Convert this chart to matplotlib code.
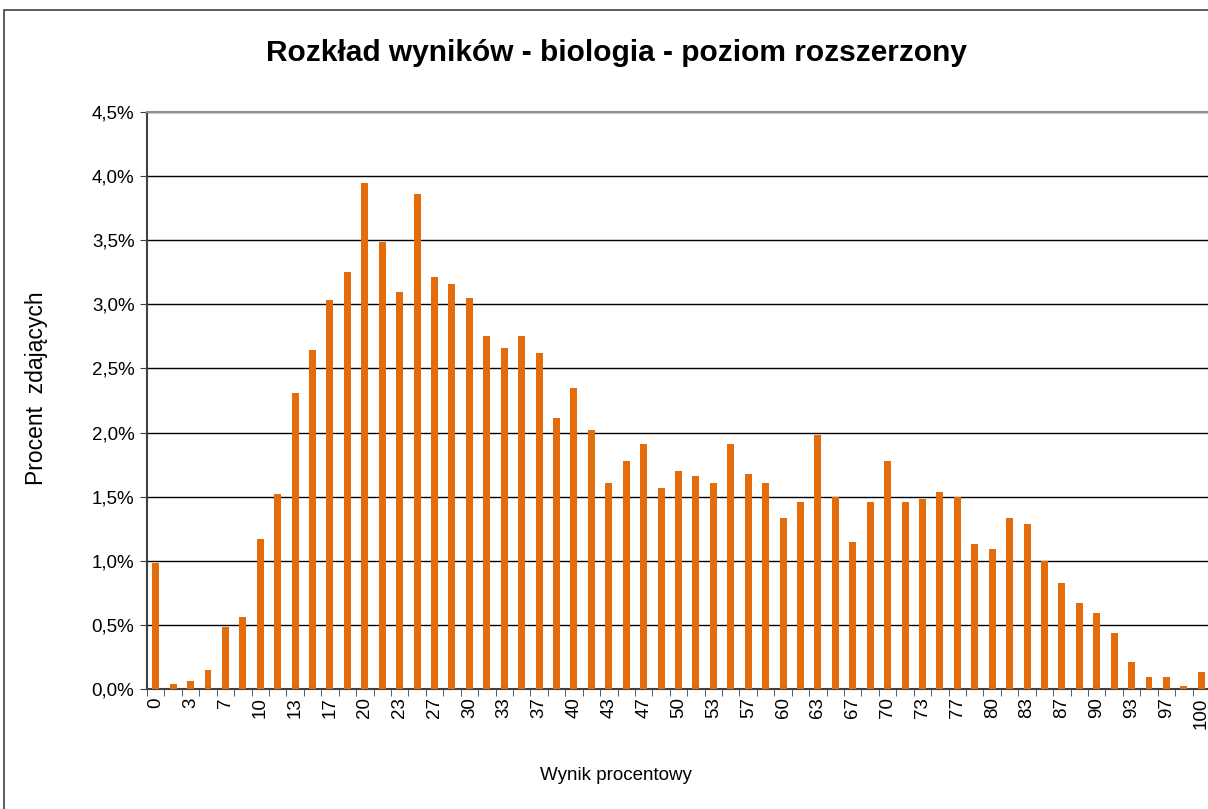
import numpy as np
import matplotlib
matplotlib.use('Agg')
import matplotlib.pyplot as plt
from matplotlib.ticker import FuncFormatter, MultipleLocator, FixedLocator
from matplotlib.patches import Rectangle

plt.rcParams['font.family'] = ['Liberation Sans', 'DejaVu Sans']

# wynik procentowy (60 punktów -> procent)
scores = [0, 2, 3, 5, 7, 8, 10, 12, 13, 15, 17, 18, 20, 22, 23, 25, 27, 28, 30, 32,
          33, 35, 37, 38, 40, 42, 43, 45, 47, 48, 50, 52, 53, 55, 57, 58, 60, 62, 63, 65,
          67, 68, 70, 72, 73, 75, 77, 78, 80, 82, 83, 85, 87, 88, 90, 92, 93, 95, 97, 98, 100]
# procent zdajacych
share = [0.98, 0.04, 0.06, 0.15, 0.48, 0.56, 1.17, 1.52, 2.31, 2.64, 3.03, 3.25, 3.95, 3.49,
         3.10, 3.86, 3.21, 3.16, 3.05, 2.75, 2.66, 2.75, 2.62, 2.11, 2.35, 2.02, 1.61, 1.78,
         1.91, 1.57, 1.70, 1.66, 1.61, 1.91, 1.68, 1.61, 1.33, 1.46, 1.98, 1.50, 1.15, 1.46,
         1.78, 1.46, 1.48, 1.54, 1.50, 1.13, 1.09, 1.33, 1.29, 1.00, 0.83, 0.67, 0.59, 0.44,
         0.21, 0.09, 0.09, 0.02, 0.13]

W, H = 1208, 809
fig = plt.figure(figsize=(W / 100, H / 100), dpi=100)

# ramka wykresu
fig.patches.append(Rectangle((4 / W, -0.05), 1.1, (H - 10) / H + 0.05, transform=fig.transFigure,
                             fill=False, edgecolor='#404040', linewidth=1.2))

ax = fig.add_axes([147 / W, 1 - 689 / H, (1210 - 147) / W, (689 - 112) / H])
pos = np.arange(len(scores))
ax.bar(pos, share, width=0.4, color='#E46C0A', zorder=3)

ax.set_xlim(-0.5, len(scores) - 0.5)
ax.set_ylim(0, 4.5)
ax.yaxis.set_major_locator(MultipleLocator(0.5))
ax.yaxis.set_major_formatter(FuncFormatter(lambda v, p: ('%.1f%%' % v).replace('.', ',')))
ax.grid(axis='y', color='black', linewidth=1, zorder=0)

ax.set_xticks(pos[::2])
ax.set_xticklabels([str(s) for s in scores[::2]], rotation=90)
ax.xaxis.set_minor_locator(FixedLocator(np.arange(-0.5, len(scores), 1)))
ax.tick_params(axis='x', which='major', length=0, labelsize=13.5, pad=6)
ax.tick_params(axis='x', which='minor', length=5, color='#404040', direction='out')
ax.tick_params(axis='y', length=5, labelsize=13.5, color='#404040', direction='out', pad=4)

ax.spines['right'].set_visible(False)
ax.spines['top'].set_color('#909090')
ax.spines['top'].set_linewidth(1.5)
ax.spines['left'].set_color('#404040')
ax.spines['left'].set_linewidth(1.5)
ax.spines['bottom'].set_color('#404040')
ax.spines['bottom'].set_linewidth(1.5)

fig.text(616 / W, 1 - 53 / H, 'Rozkład wyników - biologia - poziom rozszerzony',
         ha='center', va='center', fontsize=21.5, fontweight='bold')
fig.text(37 / W, 1 - 388 / H, 'Procent  zdających', rotation=90,
         ha='center', va='center', fontsize=16.5)
fig.text(616 / W, 1 - 775 / H, 'Wynik procentowy', ha='center', va='center', fontsize=13.5)

fig.savefig('out.png', dpi=100)
